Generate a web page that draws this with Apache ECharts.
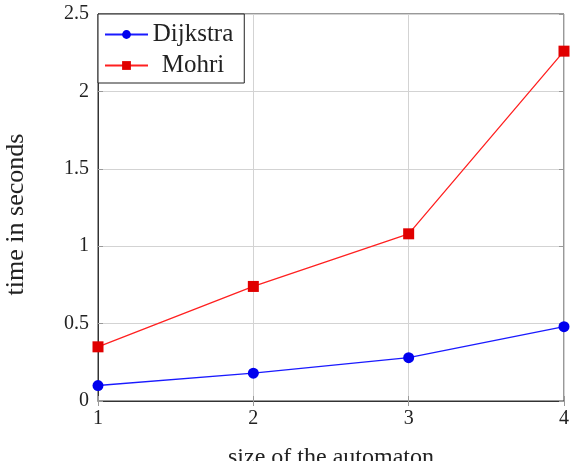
<!DOCTYPE html>
<html>
<head>
<meta charset="utf-8">
<script src="https://cdn.jsdelivr.net/npm/echarts@6/dist/echarts.min.js"></script>
<style>
  html, body { margin: 0; padding: 0; background: #fff; }
  #chart { width: 570px; height: 461px; }
</style>
</head>
<body>
<div id="chart"></div>
<script>
let sizes = [1, 2, 3, 4];
let dijkstra = [0.1, 0.18, 0.28, 0.48];
let mohri = [0.35, 0.74, 1.08, 2.26];
let yTicks = [0, 0.5, 1, 1.5, 2, 2.5];

let font = 'Liberation Serif';

function pairs(vals) {
    let out = [];
    for (let i = 0; i < sizes.length; i++) {
        out.push([sizes[i], vals[i]]);
    }
    return out;
}

// mirrored axes (top / right) only carry the small inside ticks
function mirror(type) {
    let ax = {
        type: 'value',
        min: type == 'x' ? 1 : yTicks[0],
        max: type == 'x' ? 4 : yTicks[yTicks.length - 1],
        interval: type == 'x' ? 1 : 0.5,
        position: type == 'x' ? 'top' : 'right',
        axisLine: { show: false },
        axisTick: { show: true, inside: true, length: 5, lineStyle: { color: '#999' } },
        axisLabel: { show: false },
        splitLine: { show: false }
    };
    return ax;
}

let chart = echarts.init(document.getElementById('chart'));
let option = {
    animation: false,
    textStyle: { fontFamily: font },
    grid: {
        left: 98,
        right: 6,
        top: 14,
        bottom: 60,
        outerBoundsMode: 'none',
        containLabel: false,
        show: true,
        borderColor: '#333',
        borderWidth: 1
    },
    legend: {
        left: 98,
        top: 14,
        orient: 'vertical',
        backgroundColor: '#fff',
        borderColor: '#222',
        borderWidth: 1,
        borderRadius: 0,
        padding: [8, 11, 5, 6],
        itemGap: 6,
        itemWidth: 43,
        itemHeight: 11,
        textStyle: {
            fontFamily: font, fontSize: 25, color: '#222',
            rich: { n: { fontFamily: font, fontSize: 25, color: '#222', width: 80, align: 'center', lineHeight: 26 } }
        },
        formatter: function (name) { return '{n|' + name + '}'; },
        data: ['Dijkstra', 'Mohri']
    },
    xAxis: [{
        type: 'value',
        min: 1,
        max: 4,
        interval: 1,
        name: 'size of the automaton',
        nameLocation: 'middle',
        nameGap: 45,
        nameTextStyle: { fontFamily: font, fontSize: 24, color: '#222' },
        axisLine: { lineStyle: { color: '#333' } },
        axisTick: { inside: true, length: 5, lineStyle: { color: '#999' } },
        axisLabel: { fontFamily: font, fontSize: 20, color: '#222', margin: 8 },
        splitLine: { show: true, lineStyle: { color: '#d3d3d3' } }
    }, mirror('x')],
    yAxis: [{
        type: 'value',
        min: yTicks[0],
        max: yTicks[yTicks.length - 1],
        interval: 0.5,
        name: 'time in seconds',
        nameLocation: 'middle',
        nameGap: 69,
        nameTextStyle: { fontFamily: font, fontSize: 26, color: '#222', padding: [0, 14, 0, 0] },
        axisLine: { show: true, lineStyle: { color: '#333' } },
        axisTick: { show: true, inside: true, length: 5, lineStyle: { color: '#999' } },
        axisLabel: { fontFamily: font, fontSize: 20, color: '#222', margin: 9 },
        splitLine: { show: true, lineStyle: { color: '#d3d3d3' } }
    }, mirror('y')],
    series: [{
        name: 'Dijkstra',
        type: 'line',
        data: pairs(dijkstra),
        symbol: 'circle',
        symbolSize: 11,
        lineStyle: { color: '#1a1aff', width: 1.3 },
        itemStyle: { color: '#0000ee' },
        z: 3
    }, {
        name: 'Mohri',
        type: 'line',
        data: pairs(mohri),
        symbol: 'rect',
        symbolSize: 11,
        lineStyle: { color: '#ff2020', width: 1.3 },
        itemStyle: { color: '#e00000' },
        z: 3
    }]
};
chart.setOption(option);
</script>
</body>
</html>
